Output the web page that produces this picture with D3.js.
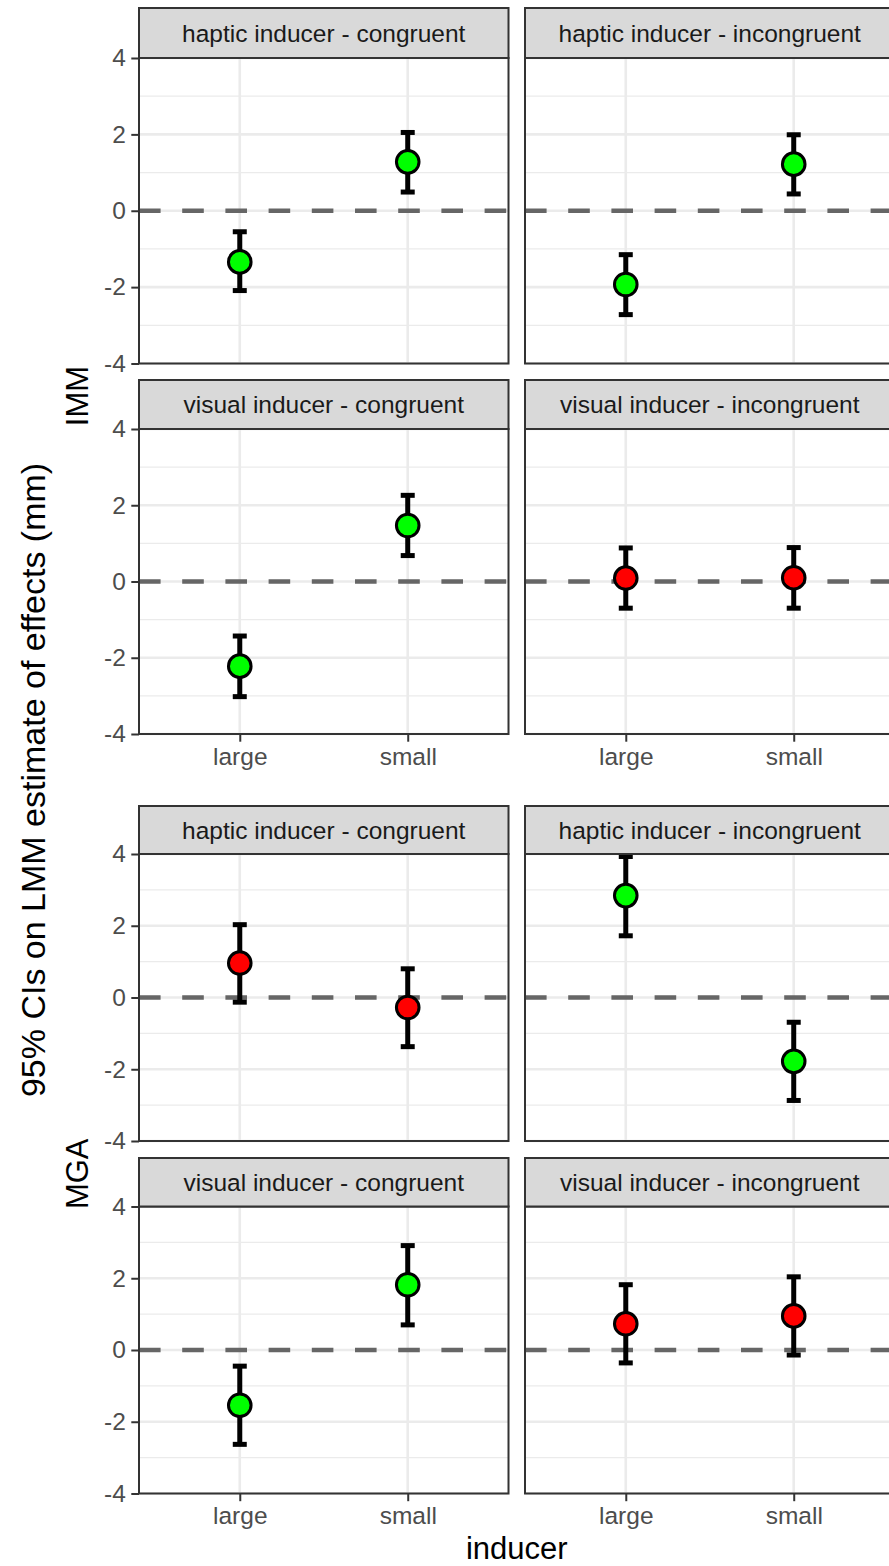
<!DOCTYPE html>
<html>
<head>
<meta charset="utf-8">
<script src="https://cdn.jsdelivr.net/npm/d3@7"></script>
<style>
  body { margin: 0; background: #fff; }
  svg { display: block; font-family: "Liberation Sans", Arial, sans-serif; }
</style>
</head>
<body>
<div class="chart"></div>
<script>
// data
const measures = ["IMM", "MGA"];
const facets = ["haptic inducer - congruent", "haptic inducer - incongruent",
                "visual inducer - congruent", "visual inducer - incongruent"];
const inducers = ["large", "small"];
const yTicks = [-4, -2, 0, 2, 4];
const yMinor = [-3, -1, 1, 3];

// one entry per facet, [large, small]
const immEst = [[-1.34, 1.28], [-1.93, 1.22], [-2.22, 1.47], [0.09, 0.10]];
const immLow = [[-2.09, 0.49], [-2.72, 0.44], [-3.02, 0.68], [-0.70, -0.70]];
const immHigh = [[-0.55, 2.05], [-1.15, 1.99], [-1.43, 2.26], [0.88, 0.89]];
const immSig = [[1, 1], [1, 1], [1, 1], [0, 0]];

const mgaEst = [[0.96, -0.28], [2.84, -1.78], [-1.54, 1.82], [0.73, 0.95]];
const mgaLow = [[-0.13, -1.37], [1.72, -2.87], [-2.63, 0.70], [-0.36, -0.14]];
const mgaHigh = [[2.03, 0.80], [3.93, -0.69], [-0.45, 2.91], [1.82, 2.04]];
const mgaSig = [[0, 0], [1, 1], [1, 1], [0, 0]];

const measureData = {
  IMM: {est: immEst, low: immLow, high: immHigh, sig: immSig},
  MGA: {est: mgaEst, low: mgaLow, high: mgaHigh, sig: mgaSig}
};

const width = 889, height = 1566;
const colX = [139, 525];
const panelW = 369.5;
// rows: strip top, panel top, panel bottom
const rows = {
  IMM: [[8, 58, 363.5], [380, 429, 734]],
  MGA: [[806, 854, 1141], [1158, 1206.5, 1493.5]]
};
const tickFont = 24.5, titleFont = 31;

const svg = d3.select('.chart').append('svg')
  .attr('width', width)
  .attr('height', height);

measures.forEach(m => {
  const md = measureData[m];
  facets.forEach((f, fi) => {
    const r = Math.floor(fi / 2), c = fi % 2;
    const [sTop, pTop, pBot] = rows[m][r];
    const x0 = colX[c];

    const x = d3.scalePoint().domain(inducers).range([x0, x0 + panelW]).padding(0.6);
    const y = d3.scaleLinear().domain([-4, 4]).range([pBot, pTop]);

    const g = svg.append('g');

    // grid
    g.selectAll('.minor').data(yMinor).enter().append('line')
      .attr('x1', x0).attr('x2', x0 + panelW)
      .attr('y1', d => y(d)).attr('y2', d => y(d))
      .attr('stroke', '#ebebeb').attr('stroke-width', 1.3);
    g.selectAll('.major').data(yTicks).enter().append('line')
      .attr('x1', x0).attr('x2', x0 + panelW)
      .attr('y1', d => y(d)).attr('y2', d => y(d))
      .attr('stroke', '#ebebeb').attr('stroke-width', 2.6);
    g.selectAll('.vmajor').data(inducers).enter().append('line')
      .attr('x1', d => x(d)).attr('x2', d => x(d))
      .attr('y1', pTop).attr('y2', pBot)
      .attr('stroke', '#ebebeb').attr('stroke-width', 2.6);

    // zero reference line
    g.append('line')
      .attr('x1', x0).attr('x2', x0 + panelW)
      .attr('y1', y(0)).attr('y2', y(0))
      .attr('stroke', '#666666').attr('stroke-width', 4.5)
      .attr('stroke-dasharray', '21.6,21.6');

    const pts = inducers.map((ind, i) => ({
      ind: ind, est: md.est[fi][i], low: md.low[fi][i], high: md.high[fi][i], sig: md.sig[fi][i]
    }));

    // error bars
    g.selectAll('.stem').data(pts).enter().append('line')
      .attr('x1', d => x(d.ind)).attr('x2', d => x(d.ind))
      .attr('y1', d => y(d.low)).attr('y2', d => y(d.high))
      .attr('stroke', '#000').attr('stroke-width', 5);
    ['low', 'high'].forEach(k => {
      g.selectAll('.cap' + k).data(pts).enter().append('line')
        .attr('x1', d => x(d.ind) - 7).attr('x2', d => x(d.ind) + 7)
        .attr('y1', d => y(d[k])).attr('y2', d => y(d[k]))
        .attr('stroke', '#000').attr('stroke-width', 5);
    });

    g.selectAll('circle').data(pts).enter().append('circle')
      .attr('cx', d => x(d.ind)).attr('cy', d => y(d.est))
      .attr('r', 11.3)
      .attr('fill', d => d.sig ? '#00ff00' : '#ff0000')
      .attr('stroke', '#000').attr('stroke-width', 3);

    // panel border
    g.append('rect')
      .attr('x', x0).attr('y', pTop).attr('width', panelW).attr('height', pBot - pTop)
      .attr('fill', 'none').attr('stroke', '#333333').attr('stroke-width', 2);

    // strip
    g.append('rect')
      .attr('x', x0).attr('y', sTop).attr('width', panelW).attr('height', pTop - sTop)
      .attr('fill', '#d9d9d9').attr('stroke', '#333333').attr('stroke-width', 2);
    g.append('text')
      .attr('x', x0 + panelW / 2).attr('y', (sTop + pTop) / 2)
      .attr('dy', '0.35em')
      .attr('text-anchor', 'middle')
      .attr('font-size', tickFont).attr('fill', '#1a1a1a')
      .text(f);

    // y axis on left column (plain hyphen minus like the reference)
    if (c === 0) {
      const yAxis = d3.axisLeft(y).tickValues(yTicks).tickFormat(d => String(d))
        .tickSize(7.7).tickPadding(5.5);
      const ya = g.append('g').attr('transform', `translate(${x0},0)`).call(yAxis);
      ya.select('.domain').remove();
      ya.selectAll('line').attr('stroke', '#333333').attr('stroke-width', 2);
      ya.selectAll('text').attr('font-size', tickFont).attr('fill', '#4d4d4d')
        .attr('font-family', '"Liberation Sans", Arial, sans-serif');
    }
    // x axis on bottom row
    if (r === 1) {
      const xAxis = d3.axisBottom(x).tickSize(7.7).tickPadding(5.5);
      const xa = g.append('g').attr('transform', `translate(0,${pBot})`).call(xAxis);
      xa.select('.domain').remove();
      xa.selectAll('line').attr('stroke', '#333333').attr('stroke-width', 2);
      xa.selectAll('text').attr('font-size', tickFont).attr('fill', '#4d4d4d')
        .attr('font-family', '"Liberation Sans", Arial, sans-serif');
    }
  });

  // measure label
  const cy = (rows[m][0][1] + rows[m][1][2]) / 2;
  svg.append('text')
    .attr('transform', `translate(77,${cy}) rotate(-90)`)
    .attr('dy', '0.35em')
    .attr('text-anchor', 'middle')
    .attr('font-size', titleFont).attr('fill', '#000')
    .text(m);
});

// overall titles
svg.append('text')
  .attr('transform', `translate(33,780) rotate(-90)`)
  .attr('dy', '0.35em')
  .attr('text-anchor', 'middle')
  .attr('font-size', 34).attr('fill', '#000')
  .text('95% CIs on LMM estimate of effects (mm)');

svg.append('text')
  .attr('x', (colX[1] + panelW + colX[0]) / 2)
  .attr('y', 1559)
  .attr('text-anchor', 'middle')
  .attr('font-size', titleFont).attr('fill', '#000')
  .text('inducer');
</script>
</body>
</html>
